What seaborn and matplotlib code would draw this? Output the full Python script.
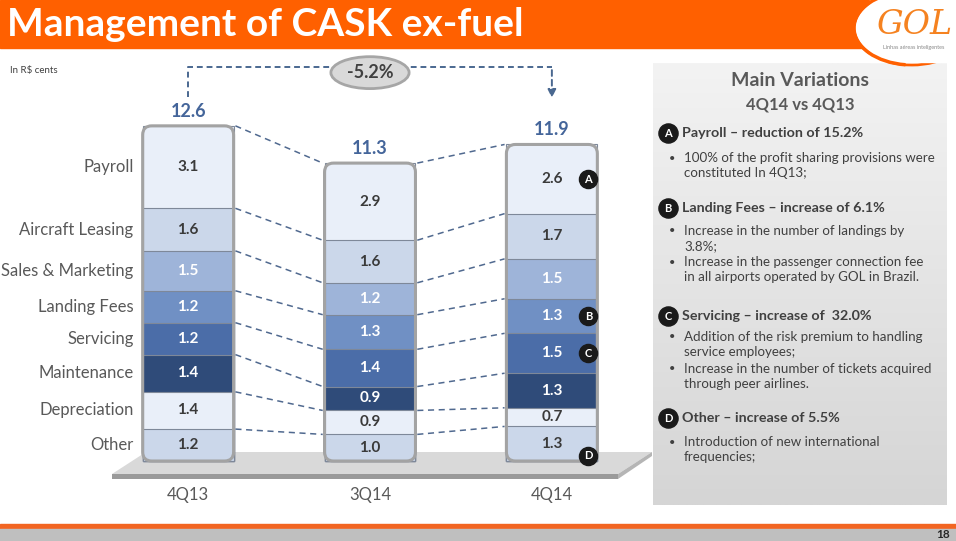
import matplotlib
matplotlib.use("Agg")
import matplotlib.pyplot as plt
from matplotlib.patches import Rectangle, Polygon, Ellipse, FancyBboxPatch, Arc
from matplotlib.colors import LinearSegmentedColormap
import seaborn as sns
import pandas as pd
import numpy as np

# data (R$ cents), stacked bottom -> top
quarters = ["4Q13", "3Q14", "4Q14"]
categories = ["Other", "Depreciation", "Maintenance", "Servicing",
              "Landing Fees", "Sales & Marketing", "Aircraft Leasing", "Payroll"]
cask_4q13 = [1.2, 1.4, 1.4, 1.2, 1.2, 1.5, 1.6, 3.1]
cask_3q14 = [1.0, 0.9, 0.9, 1.4, 1.3, 1.2, 1.6, 2.9]
cask_4q14 = [1.3, 0.7, 1.3, 1.5, 1.3, 1.5, 1.7, 2.6]
totals = [12.6, 11.3, 11.9]
change_label = "-5.2%"
badges = {"Payroll": "A", "Landing Fees": "B", "Servicing": "C", "Other": "D"}

seg_colors = ["#CBD7EA", "#E9EFF9", "#2F4B79", "#4B6DA8",
              "#7090C4", "#9EB4D9", "#CBD7EA", "#E9EFF9"]
txt_colors = ["#3A3A3A", "#3A3A3A", "white", "white",
              "white", "white", "#3A3A3A", "#3A3A3A"]

series = [cask_4q13, cask_3q14, cask_4q14]
rows = []
for q, vals in zip(quarters, series):
    cum = np.cumsum(vals)
    for cat, v, c in zip(categories, vals, cum):
        rows.append({"quarter": q, "category": cat, "value": v,
                     "cum": c, "mid": c - v / 2})
df = pd.DataFrame(rows)

sns.set_style("white")
plt.rcParams["font.family"] = ["Lato", "DejaVu Sans"]

fig = plt.figure(figsize=(9.56, 5.41), dpi=100)
W, H = 956, 541

# background / decoration layer in pixel coords
bg = fig.add_axes([0, 0, 1, 1])
bg.set_xlim(0, W)
bg.set_ylim(H, 0)
bg.axis("off")

orange = "#FF6000"
bg.add_patch(Rectangle((0, 0), W, 48, color=orange, zorder=1))
bg.text(7, 25, "Management of CASK ex-fuel", color="white", fontsize=28,
        fontweight="bold", va="center", ha="left", zorder=3)
# logo
bg.add_patch(Ellipse((912, 28), 116, 74, facecolor="white", edgecolor=orange, lw=2, zorder=2))
bg.add_patch(Rectangle((870, 0), 90, 62, color="white", zorder=2))
bg.add_patch(Arc((912, 28), 116, 74, theta1=100, theta2=260, color=orange, lw=2.5, zorder=3))
bg.text(914, 25, "GOL", color="#F58220", fontsize=24, fontstyle="italic",
        ha="center", va="center", zorder=3, fontfamily=["DejaVu Serif"])
bg.text(914, 47, "Linhas aéreas inteligentes", color="#888888", fontsize=4,
        ha="center", va="center", zorder=3)

bg.text(10, 70, "In R\\$ cents", fontsize=7, color="#404040", va="center")

# floor
bg.add_patch(Polygon([[112, 474], [618, 474], [652, 452], [146, 452]],
                     closed=True, facecolor="#D9D9D9", edgecolor="none", zorder=1))
bg.add_patch(Polygon([[112, 474], [618, 474], [618, 479], [112, 479]],
                     closed=True, facecolor="#9A9A9A", edgecolor="none", zorder=1))
bg.add_patch(Polygon([[618, 474], [652, 452], [652, 456], [618, 479]],
                     closed=True, facecolor="#B5B5B5", edgecolor="none", zorder=1))

# right panel
grad = LinearSegmentedColormap.from_list("g", ["#F3F3F3", "#D5D5D5"])
bg.imshow(np.linspace(0, 1, 256).reshape(-1, 1), cmap=grad, aspect="auto",
          extent=(653, 947, 505, 63), zorder=1)
bg.set_xlim(0, W)
bg.set_ylim(H, 0)

tc = "#595959"
bg.text(800, 81, "Main Variations", fontsize=14, fontweight="bold", color=tc, ha="center", va="center")
bg.text(800, 104, "4Q14 vs 4Q13", fontsize=12, fontweight="bold", color=tc, ha="center", va="center")

panel = [
    ("A", "Payroll – reduction of 15.2%", 133,
     [(158, True, "100% of the profit sharing provisions were"), (173, False, "constituted In 4Q13;")]),
    ("B", "Landing Fees – increase of 6.1%", 208,
     [(231, True, "Increase in the number of landings by"), (246, False, "3.8%;"),
      (262, True, "Increase in the passenger connection fee"),
      (277, False, "in all airports operated by GOL in Brazil.")]),
    ("C", "Servicing – increase of  32.0%", 316,
     [(337, True, "Addition of the risk premium to handling"), (352, False, "service employees;"),
      (369, True, "Increase in the number of tickets acquired"), (384, False, "through peer airlines.")]),
    ("D", "Other – increase of 5.5%", 418,
     [(442, True, "Introduction of new international"), (457, False, "frequencies;")]),
]
for letter, head, y, lines in panel:
    bg.scatter([668], [y], s=190, color="#1A1A1A", zorder=3)
    bg.text(668, y + 0.5, letter, color="white", fontsize=8, fontweight="bold",
            ha="center", va="center", zorder=4)
    bg.text(682, y, head, fontsize=10.3, fontweight="bold", color="#404040", va="center", zorder=3)
    for ly, bullet, txt in lines:
        if bullet:
            bg.text(672, ly, "•", fontsize=8, color="#404040", va="center", ha="center", zorder=3)
        bg.text(684, ly, txt, fontsize=9.6, color="#404040", va="center", zorder=3)

# footer
bg.add_patch(Rectangle((0, 524), W, 4, color="#F26522", zorder=1))
bg.add_patch(Rectangle((0, 529), W, 12, color="#BFBFBF", zorder=1))
bg.text(950, 535, "18", fontsize=8.5, fontweight="bold", color="#262626",
        ha="right", va="center", zorder=3)

# chart layer
base_px, unit_px = 461, 26.6
ax = fig.add_axes([79 / W, (H - 480) / H, 582 / W, 420 / H])
ax.patch.set_alpha(0)

sns.barplot(data=df, x="quarter", y="cum", hue="category", order=quarters,
            hue_order=categories[::-1], palette=seg_colors[::-1], dodge=False,
            width=0.5, saturation=1, edgecolor="#7E8899", linewidth=0.8,
            errorbar=None, legend=False, ax=ax)

ax.set_xlim(-0.6, 2.6)
ax.set_ylim(-(480 - base_px) / unit_px, (base_px - 60) / unit_px)
for s in ax.spines.values():
    s.set_visible(False)
ax.set_yticks([])
ax.set_xticks(range(len(quarters)))
ax.set_xticklabels(quarters, fontsize=12, color=tc)
ax.tick_params(axis="x", length=0, pad=5)
ax.set_xlabel("")
ax.set_ylabel("")

# rounded outlines
asp = (1 / 3.2 * 582) / unit_px
for i, t in enumerate(df.groupby("quarter", sort=False)["value"].sum()):
    ax.add_patch(FancyBboxPatch((i - 0.25, 0), 0.5, t,
                                boxstyle="round,pad=0,rounding_size=0.05",
                                mutation_aspect=asp, facecolor="none",
                                edgecolor="#A3A3A3", lw=2.2, zorder=5))

# segment labels
for i, q in enumerate(quarters):
    sub = df[df.quarter == q]
    for k, r in enumerate(sub.itertuples()):
        ax.text(i, r.mid, f"{r.value:.1f}", ha="center", va="center",
                fontsize=11, fontweight="bold", color=txt_colors[k], zorder=6)
    top = sub.cum.max()
    ax.text(i, top + 0.55, f"{totals[i]:.1f}", ha="center", va="center",
            fontsize=13, fontweight="bold", color="#44659A", zorder=6)

# category labels next to first bar
first = df[df.quarter == quarters[0]]
for r in first.itertuples():
    ax.text(-0.30, r.mid, r.category, ha="right", va="center", fontsize=12,
            color=tc, clip_on=False)

# connectors
for i in range(len(quarters) - 1):
    left = df[df.quarter == quarters[i]].cum.values
    right = df[df.quarter == quarters[i + 1]].cum.values
    for a, b in zip(left, right):
        ax.plot([i + 0.26, i + 0.74], [a, b], color="#50698F", lw=1.1,
                ls=(0, (4, 3)), zorder=4)

# badges on last bar
last = df[df.quarter == quarters[-1]]
for r in last.itertuples():
    if r.category in badges:
        y = r.mid if r.category != "Other" else r.cum - r.value + 0.2
        ax.scatter([2.2], [y], s=170, color="#1A1A1A", zorder=7)
        ax.text(2.2, y, badges[r.category], color="white", fontsize=8,
                fontweight="bold", ha="center", va="center", zorder=8)

# change bracket
y_top = 14.8
ax.plot([0, 0, 2, 2], [totals[0] + 1.1, y_top, y_top, y_top], color="#4A6890",
        lw=1.4, ls=(0, (3, 2)), clip_on=False, zorder=4)
ax.annotate("", xy=(2, totals[2] + 1.65), xytext=(2, y_top),
            arrowprops=dict(arrowstyle="-|>", color="#4A6890", lw=1.4,
                            linestyle=(0, (3, 2)), mutation_scale=12),
            annotation_clip=False, zorder=4)
ax.add_patch(Ellipse((1.0, y_top - 0.2), 0.43, 1.2, facecolor="#D9D9D9",
                     edgecolor="#A6A6A6", lw=2, zorder=5, clip_on=False))
ax.text(1.0, y_top - 0.2, change_label, ha="center", va="center", fontsize=13,
        fontweight="bold", color="#404040", zorder=6)

fig.savefig("out.png", dpi=100)
